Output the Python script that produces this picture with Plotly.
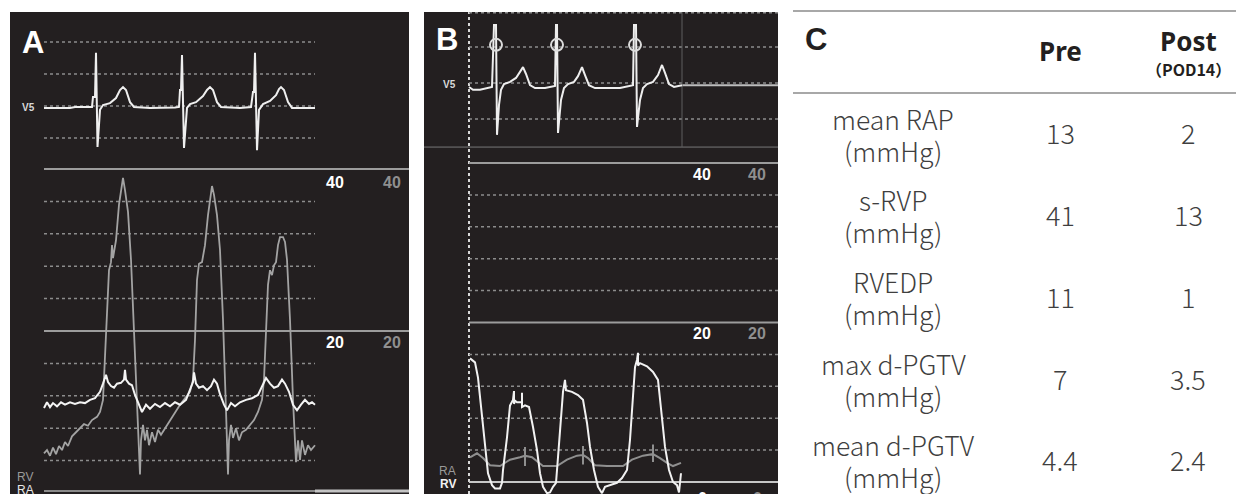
import plotly.graph_objects as go

W, H = 1236, 494

# ---------------- Panel A (pre) : time [s], ECG [mV-grid], pressure [mmHg] ----------------
ecg_a = [(0.00,-0.06),(0.26,-0.06),(0.31,-0.03),(0.48,-0.03),(0.49,0.28),(0.51,0.28),(0.52,1.66),
         (0.535,-1.28),(0.56,-0.12),(0.59,0.03),(0.66,0.09),(0.72,0.25),(0.76,0.50),(0.79,0.59),
         (0.82,0.50),(0.86,0.12),(0.90,-0.03),(1.06,-0.06),(1.31,-0.05),(1.35,-0.03),(1.36,0.50),
         (1.37,0.50),(1.38,1.59),(1.40,-1.31),(1.43,-0.06),(1.46,0.06),(1.52,0.12),(1.59,0.31),
         (1.63,0.50),(1.66,0.59),(1.69,0.50),(1.73,0.12),(1.77,-0.03),(1.96,-0.06),(2.07,-0.03),
         (2.09,0.44),(2.10,0.44),(2.11,1.66),(2.13,-1.38),(2.15,-0.12),(2.19,0.06),(2.26,0.16),
         (2.32,0.34),(2.35,0.53),(2.37,0.59),(2.40,0.50),(2.44,0.12),(2.48,-0.06),(2.71,-0.06)]

rv_a = [(0.00,4.9),(0.03,5.3),(0.06,4.6),(0.09,5.6),(0.12,4.8),(0.15,5.8),(0.18,5.3),(0.21,6.3),
        (0.24,5.8),(0.28,7.0),(0.32,7.5),(0.36,8.0),(0.40,8.5),(0.44,8.3),(0.48,9.0),(0.53,9.4),
        (0.56,10.0),(0.59,11.5),(0.62,20.1),(0.65,27.5),(0.67,28.5),(0.68,30.6),(0.69,29.0),
        (0.72,31.2),(0.75,35.6),(0.78,38.4),(0.79,38.9),(0.81,37.4),(0.84,34.7),(0.87,28.8),
        (0.90,20.1),(0.93,10.2),(0.95,5.3),(0.96,2.3),(0.97,6.5),(0.99,8.4),(1.01,6.5),(1.03,7.8),
        (1.05,5.9),(1.08,7.5),(1.11,6.3),(1.14,7.8),(1.17,7.2),(1.21,8.0),(1.26,9.0),(1.31,10.0),
        (1.36,10.9),(1.41,11.7),(1.46,12.5),(1.49,14.0),(1.51,18.9),(1.53,26.3),(1.55,28.3),
        (1.58,28.5),(1.61,30.6),(1.64,34.3),(1.67,37.4),(1.68,37.9),(1.70,36.8),(1.73,34.3),
        (1.76,30.0),(1.79,21.4),(1.82,10.2),(1.84,2.3),(1.85,6.5),(1.87,8.4),(1.89,6.8),(1.92,8.0),
        (1.95,6.5),(1.98,7.5),(2.02,7.8),(2.06,8.4),(2.10,9.0),(2.14,10.0),(2.18,11.5),(2.20,14.0),
        (2.22,20.1),(2.24,25.7),(2.26,27.5),(2.28,26.9),(2.30,28.1),(2.32,28.5),(2.34,30.6),
        (2.36,31.6),(2.39,31.6),(2.41,31.0),(2.43,28.8),(2.46,21.4),(2.49,11.5),(2.52,3.8),
        (2.54,6.5),(2.56,4.1),(2.58,6.5),(2.61,4.7),(2.64,5.9),(2.67,5.3),(2.71,5.9)]

ra_a = [(0.00,10.5),(0.03,11.2),(0.06,10.6),(0.09,11.1),(0.13,10.7),(0.17,11.2),(0.21,10.9),
        (0.26,11.2),(0.31,11.0),(0.36,11.2),(0.41,11.1),(0.46,11.5),(0.51,11.7),(0.56,12.5),
        (0.59,13.5),(0.62,14.6),(0.64,13.7),(0.67,13.2),(0.70,13.0),(0.73,13.5),(0.77,13.6),
        (0.80,14.0),(0.81,15.2),(0.82,14.0),(0.85,13.5),(0.88,13.3),(0.91,12.1),(0.95,10.9),
        (0.98,10.0),(1.02,10.9),(1.06,10.4),(1.11,11.0),(1.16,10.6),(1.21,11.1),(1.26,10.7),
        (1.31,11.2),(1.36,10.9),(1.42,11.5),(1.46,12.7),(1.49,13.7),(1.50,14.9),(1.52,13.5),
        (1.55,13.0),(1.59,13.2),(1.63,12.7),(1.67,13.2),(1.70,14.0),(1.73,13.5),(1.76,12.2),
        (1.80,10.9),(1.83,10.2),(1.87,11.1),(1.91,10.7),(1.96,11.2),(2.02,11.5),(2.08,11.7),
        (2.14,12.1),(2.19,13.3),(2.22,14.2),(2.26,13.5),(2.30,13.0),(2.34,13.2),(2.38,14.0),
        (2.41,13.5),(2.45,12.5),(2.49,10.9),(2.53,10.2),(2.57,10.9),(2.61,11.5),(2.65,11.0),
        (2.68,11.2),(2.71,10.9)]

# ---------------- Panel B (post) ----------------
ecg_b = [(0.00,-0.11),(0.04,-0.19),(0.11,-0.19),(0.19,-0.14),(0.23,-0.11),(0.25,1.61),(0.27,1.61),
         (0.28,-1.44),(0.30,-0.61),(0.32,-0.19),(0.35,-0.03),(0.41,0.03),(0.47,0.14),(0.51,0.31),
         (0.54,0.44),(0.57,0.25),(0.61,-0.06),(0.66,-0.14),(0.76,-0.14),(0.86,-0.08),(0.87,1.61),
         (0.88,1.61),(0.89,-1.39),(0.92,-0.47),(0.95,-0.14),(0.99,-0.03),(1.05,0.03),(1.09,0.19),
         (1.13,0.44),(1.16,0.22),(1.20,-0.06),(1.26,-0.14),(1.51,-0.14),(1.64,-0.06),(1.65,1.61),
         (1.67,1.61),(1.68,-1.22),(1.71,-0.47),(1.74,-0.14),(1.78,-0.03),(1.84,0.03),(1.89,0.22),
         (1.93,0.50),(1.96,0.28),(2.00,-0.03),(2.05,-0.11),(2.09,-0.08),(2.13,-0.06)]

qrs_marks_b = [(0.27,1.06),(0.88,1.06),(1.66,1.06)]

rv_b = [(0.01,15.5),(0.06,15.0),(0.09,13.1),(0.13,8.6),(0.16,4.4),(0.19,1.1),(0.23,-0.4),
        (0.26,-0.8),(0.31,-0.8),(0.33,-0.1),(0.34,1.5),(0.38,5.6),(0.41,9.6),(0.44,10.3),
        (0.45,11.4),(0.45,9.8),(0.46,10.2),(0.48,10.0),(0.53,10.0),(0.53,11.2),(0.53,9.4),
        (0.56,9.6),(0.60,9.4),(0.64,6.9),(0.68,4.0),(0.71,1.1),(0.74,-0.6),(0.78,-1.4),(0.81,-1.3),
        (0.84,-0.6),(0.87,-0.1),(0.89,3.1),(0.92,8.6),(0.94,11.3),(0.96,12.8),(0.97,11.5),
        (1.03,11.3),(1.09,10.9),(1.14,10.3),(1.18,7.4),(1.21,4.4),(1.25,1.5),(1.29,-0.6),
        (1.33,-1.4),(1.36,-0.6),(1.41,-0.4),(1.48,-0.1),(1.53,0.5),(1.58,1.5),(1.61,5.3),
        (1.64,10.7),(1.66,14.4),(1.68,15.3),(1.69,16.2),(1.69,14.6),(1.71,14.9),(1.78,14.5),
        (1.84,13.8),(1.89,12.8),(1.93,8.1),(1.96,4.4),(2.00,1.5),(2.04,0.0),(2.08,-0.4),
        (2.10,-1.3),(2.12,1.1)]

ra_b = [(0.01,3.1),(0.08,3.6),(0.14,3.0),(0.21,2.1),(0.31,2.0),(0.41,2.8),(0.51,3.1),(0.56,3.3),
        (0.56,4.4),(0.56,2.0),(0.56,3.3),(0.63,3.1),(0.69,2.5),(0.74,2.0),(0.88,2.0),(0.98,2.8),
        (1.08,3.3),(1.14,3.4),(1.14,4.5),(1.14,2.2),(1.14,3.4),(1.19,3.0),(1.26,2.1),(1.38,2.0),
        (1.54,2.0),(1.63,2.8),(1.74,3.3),(1.84,3.5),(1.84,4.7),(1.84,2.5),(1.84,3.5),(1.91,3.0),
        (1.98,2.4),(2.04,2.0),(2.12,2.4)]

# pressure scale marks and grid levels
scale_marks = [40, 20, 0]
press_grid = [36, 32, 28, 24, 16, 12, 8, 4]
ecg_grid_a = [2, 1, 0, -1]
ecg_grid_b = [1.95, 1, 0, -1]

# ---------------- Table C ----------------
tbl_params = ["mean RAP", "s-RVP", "RVEDP", "max d-PGTV", "mean d-PGTV"]
tbl_unit = "(mmHg)"
tbl_pre = ["13", "41", "11", "7", "4.4"]
tbl_post = ["2", "13", "1", "3.5", "2.4"]
col_heads = ["Pre", "Post"]
post_sub = "（POD14）"

BG = "#231f20"
GRID = "#8c8c8c"
SOLID = "#9c9c9c"


def px(x):
    return x / W


def py(y):
    return 1 - y / H


def xs(p):
    return [a for a, _ in p]


def ys(p):
    return [b for _, b in p]


fig = go.Figure()

# Panel A traces
fig.add_trace(go.Scatter(x=xs(rv_a), y=ys(rv_a), xaxis="x", yaxis="y", mode="lines",
                         line=dict(color="#a3a3a3", width=1.8), hoverinfo="skip"))
fig.add_trace(go.Scatter(x=xs(ra_a), y=ys(ra_a), xaxis="x", yaxis="y", mode="lines",
                         line=dict(color="#f4f4f4", width=2), hoverinfo="skip"))
fig.add_trace(go.Scatter(x=xs(ecg_a), y=ys(ecg_a), xaxis="x", yaxis="y2", mode="lines",
                         line=dict(color="#efefef", width=2), hoverinfo="skip"))
# Panel B traces
fig.add_trace(go.Scatter(x=xs(ra_b), y=ys(ra_b), xaxis="x2", yaxis="y3", mode="lines",
                         line=dict(color="#8f8f8f", width=2), hoverinfo="skip"))
fig.add_trace(go.Scatter(x=xs(rv_b), y=ys(rv_b), xaxis="x2", yaxis="y3", mode="lines",
                         line=dict(color="#f2f2f2", width=2), hoverinfo="skip"))
fig.add_trace(go.Scatter(x=xs(ecg_b), y=ys(ecg_b), xaxis="x2", yaxis="y4", mode="lines",
                         line=dict(color="#eeeeee", width=2), hoverinfo="skip"))
fig.add_trace(go.Scatter(x=xs(qrs_marks_b), y=ys(qrs_marks_b), xaxis="x2", yaxis="y4", mode="markers",
                         marker=dict(symbol="circle-open", size=12, color="#dcdcdc",
                                     line=dict(color="#dcdcdc", width=2)),
                         hoverinfo="skip"))

shapes = []


def hline(xref, yref, x0, x1, y, color, width, dash="solid"):
    shapes.append(dict(type="line", xref=xref, yref=yref, x0=x0, x1=x1, y0=y, y1=y,
                       line=dict(color=color, width=width, dash=dash), layer="below"))


# Panel A grid
for v in press_grid:
    hline("x", "y", 0, 2.71, v, GRID, 1.5, "dot")
for v in ecg_grid_a:
    hline("x", "y2", 0, 2.71, v, GRID, 1.5, "dot")
hline("x", "y", 0, 3.65, scale_marks[0], SOLID, 2)
hline("x", "y", 0, 3.65, scale_marks[1], SOLID, 2)
hline("x", "y", 0, 2.71, 0.25, "#8a8a8a", 2)
hline("x", "y", 2.71, 3.65, 0.25, "#c4c4c4", 3)

# Panel B grid
for v in press_grid:
    hline("x2", "y3", 0, 3.09, v, GRID, 1.5, "dot")
for v in ecg_grid_b:
    hline("x2", "y4", 0, 3.09, v, GRID, 1.5, "dot")
hline("x2", "y3", 0, 3.09, scale_marks[0], SOLID, 2)
hline("x2", "y3", 0, 3.09, scale_marks[1], SOLID, 2)
hline("x2", "y3", 0, 3.09, scale_marks[2], "#c8c8c8", 2)
hline("x2", "y4", 2.13, 3.09, -0.06, "#bdbdbd", 2)
shapes.append(dict(type="line", xref="x2 domain", yref="y4", x0=0, x1=1, y0=-1.78, y1=-1.78,
                   line=dict(color="#777777", width=1), layer="below"))
shapes.append(dict(type="line", xref="x2", yref="y4", x0=2.13, x1=2.13, y0=-1.78, y1=1.97,
                   line=dict(color="#5e5e5e", width=1), layer="below"))
shapes.append(dict(type="line", xref="x2", yref="y3 domain", x0=0, x1=0, y0=0, y1=1,
                   line=dict(color="#d8d8d8", width=2, dash="dot"), layer="below"))

# Table lines
for yy in (11, 93):
    shapes.append(dict(type="line", xref="paper", yref="paper", x0=px(793), x1=1, y0=py(yy), y1=py(yy),
                       line=dict(color="#a8a8a8", width=2)))

ann = []


def txt(x, y, s, size, color, family="Liberation Sans", weight="normal", xanchor="center", yanchor="middle"):
    ann.append(dict(x=px(x), y=py(y), xref="paper", yref="paper", text=s, showarrow=False,
                    xanchor=xanchor, yanchor=yanchor,
                    font=dict(family=family, size=size, color=color, weight=weight)))


# panel letters
txt(33, 42, "A", 31, "#ffffff", weight="bold")
txt(447, 40, "B", 31, "#ffffff", weight="bold")
txt(816, 40, "C", 31, "#231f20", weight="bold")

# monitor labels
LS = "Liberation Sans"
txt(28, 107, "V5", 10, "#d8d8d8", family=LS, weight="bold")
txt(449, 84, "V5", 10, "#d8d8d8", family=LS, weight="bold")
txt(25, 477, "RV", 12, "#9a9a9a", family=LS)
txt(25, 490, "RA", 12, "#e8e8e8", family=LS)
txt(447, 471, "RA", 12, "#9a9a9a", family=LS)
txt(448, 484, "RV", 12, "#f2f2f2", family=LS, weight="bold")

for lab, yA, yB in ((str(scale_marks[0]), 182, 174), (str(scale_marks[1]), 342, 333)):
    txt(335, yA, lab, 16, "#ffffff", weight="bold")
    txt(392, yA, lab, 16, "#8f8f8f", weight="bold")
    txt(702, yB, lab, 16, "#ffffff", weight="bold")
    txt(757, yB, lab, 16, "#8f8f8f", weight="bold")
txt(702, 488, str(scale_marks[2]), 16, "#ffffff", weight="bold", yanchor="top")
txt(757, 488, str(scale_marks[2]), 16, "#8f8f8f", weight="bold", yanchor="top")

# table header
NS = "Noto Sans"
CJK = "Noto Sans CJK JP"
txt(1060, 51, col_heads[0], 26, "#231f20", family=NS, weight="bold")
txt(1188, 41, col_heads[1], 26, "#231f20", family=NS, weight="bold")
txt(1188, 69, post_sub, 16, "#231f20", family=CJK, weight="bold")

# table body
for i, (p, a, b) in enumerate(zip(tbl_params, tbl_pre, tbl_post)):
    yc = 133 + i * 81.7
    txt(893, yc - 15, p, 26.5, "#3f3f3f", family=CJK, weight=300)
    txt(893, yc + 17, tbl_unit, 26.5, "#3f3f3f", family=CJK, weight=300)
    txt(1060, yc, a, 27, "#3f3f3f", family=CJK, weight=300)
    txt(1188, yc, b, 27, "#3f3f3f", family=CJK, weight=300)

ax_common = dict(visible=False, showgrid=False, zeroline=False, fixedrange=True)
top = py(12)
fig.update_layout(
    width=W, height=H, autosize=False,
    margin=dict(l=0, r=0, t=0, b=0),
    paper_bgcolor="#ffffff", plot_bgcolor=BG,
    showlegend=False,
    xaxis=dict(domain=[px(10), px(409)], range=[-0.34, 3.65], anchor="y", **ax_common),
    yaxis=dict(domain=[0, top], range=[-0.123, 59.38], anchor="x", **ax_common),
    yaxis2=dict(range=[-12.125, 2.9375], overlaying="y", anchor="x", **ax_common),
    xaxis2=dict(domain=[px(424), px(778)], range=[-0.45, 3.09], anchor="y3", **ax_common),
    yaxis3=dict(domain=[0, top], range=[-1.505, 58.934], anchor="x2", **ax_common),
    yaxis4=dict(range=[-11.417, 1.972], overlaying="y3", anchor="x2", **ax_common),
    shapes=shapes,
    annotations=ann,
)

fig.write_html("out.html", config={"displayModeBar": False},
               post_script="document.body.style.margin='0';document.body.style.padding='0';")
